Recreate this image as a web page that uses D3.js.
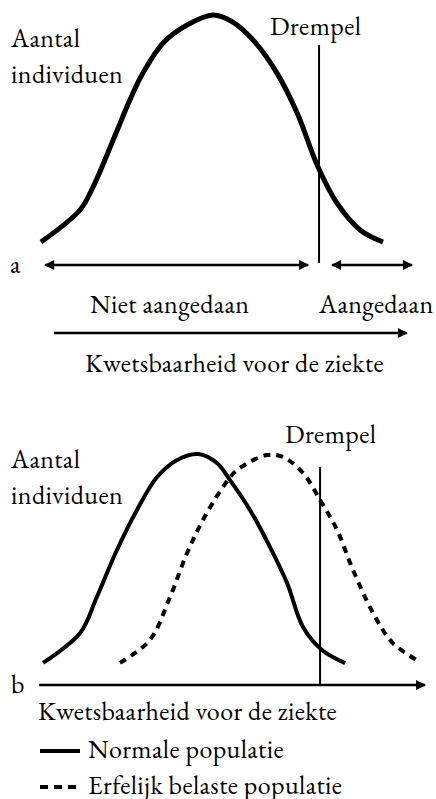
<!DOCTYPE html>
<html>
<head>
<meta charset="utf-8">
<script src="https://cdn.jsdelivr.net/npm/d3@7"></script>
<style>
  html, body { margin: 0; padding: 0; background: #fff; }
</style>
</head>
<body>
<div id="chart"></div>
<script>
(function () {
  'use strict';

  // panel a: one population, [kwetsbaarheid, aantal]
  var curveA = [[0, 0], [11.4, 14.1], [15.2, 24.2], [21.1, 44.9], [26, 62.6], [29.8, 74.4],
                [35.7, 87.7], [42.7, 95.6], [50.3, 100], [56.1, 96.9], [62, 89], [69, 74.4],
                [74.9, 56.8], [81, 33], [86.5, 17.2], [93.3, 5.3], [100, 0]];
  var thresholdA = 81.3;

  // panel b: normal vs hereditary population
  var normalB = [[0, 1], [9.8, 15.2], [14.2, 32.2], [19.5, 54.5], [24.8, 73.5], [30.1, 89.1],
                 [35.4, 97.2], [41, 100], [45.9, 95.7], [49.3, 87.7], [54.6, 73.5], [59.9, 55.9],
                 [64.4, 38.9], [68.6, 18], [73.6, 7.1], [79.7, 0.9]];
  var erfelijkB = [[20.3, 1], [28.2, 11.8], [33.5, 32.2], [38, 53], [42.2, 68.7], [47.5, 84.4],
                   [51.2, 92.4], [59.1, 99.5], [63.3, 98.6], [68.6, 91], [73.1, 78.2], [77.6, 64],
                   [81.8, 45], [87.1, 24.6], [92.3, 10.4], [99.5, 1.4]];
  var thresholdB = 73.1;

  var labels = {
    yAxis: ["Aantal", "individuen"],
    threshold: "Drempel",
    xAxis: "Kwetsbaarheid voor de ziekte",
    notAffected: "Niet aangedaan",
    affected: "Aangedaan",
    legend: ["Normale populatie", "Erfelijk belaste populatie"]
  };

  var width = 436, height = 799;

  var svg = d3.select("#chart")
      .append("svg")
      .attr("width", width)
      .attr("height", height)
      .attr("font-family", "'EB Garamond', 'Liberation Serif', serif")
      .attr("font-size", 26)
      .attr("letter-spacing", 0.4);

  var defs = svg.append("defs");
  function marker(id, orient) {
    defs.append("marker")
        .attr("id", id)
        .attr("viewBox", "0 0 10 10")
        .attr("refX", 9)
        .attr("refY", 5)
        .attr("markerUnits", "userSpaceOnUse")
        .attr("markerWidth", 12)
        .attr("markerHeight", 10)
        .attr("orient", orient)
      .append("path")
        .attr("d", "M0,0 L10,5 L0,10 Z")
        .attr("fill", "#000");
  }
  marker("arrowEnd", "auto");
  marker("arrowStart", "auto-start-reverse");

  function label(g, x, y, s) {
    return g.append("text").attr("x", x).attr("y", y).attr("fill", "#000").text(s);
  }

  function ylabel(g, y0) {
    label(g, 11, y0, labels.yAxis[0]);
    label(g, 11, y0 + 36, labels.yAxis[1]);
  }

  ///////////////////////////////////////////////
  // panel a
  ///////////////////////////////////////////////
  var xA = d3.scaleLinear().domain([0, 100]).range([41, 383]);
  var yA = d3.scaleLinear().domain([0, 100]).range([242, 15]);
  var ga = svg.append("g");

  var lineA = d3.line().curve(d3.curveCatmullRom.alpha(0.5))
      .x(function(d) { return xA(d[0]); })
      .y(function(d) { return yA(d[1]); });

  ga.append("path")
      .attr("d", lineA(curveA))
      .attr("fill", "none")
      .attr("stroke", "#000")
      .attr("stroke-width", 5);

  ga.append("line")
      .attr("x1", xA(thresholdA)).attr("x2", xA(thresholdA))
      .attr("y1", 45).attr("y2", yA(0) + 21)
      .attr("stroke", "#000").attr("stroke-width", 2);

  label(ga, 270, 35, labels.threshold);
  ylabel(ga, 47);
  label(ga, 10, 273, "a");

  var arrowY = yA(0) + 23;
  [[1.2, thresholdA - 3.2], [thresholdA + 3.8, 108.5]].forEach(function(r) {
    ga.append("line")
        .attr("x1", xA(r[0])).attr("x2", xA(r[1]))
        .attr("y1", arrowY).attr("y2", arrowY)
        .attr("stroke", "#000").attr("stroke-width", 2.5)
        .attr("marker-start", "url(#arrowStart)")
        .attr("marker-end", "url(#arrowEnd)");
  });

  label(ga, 90, 313, labels.notAffected);
  label(ga, 319, 313, labels.affected);

  ga.append("line")
      .attr("x1", xA(3.8)).attr("x2", xA(107))
      .attr("y1", 333).attr("y2", 333)
      .attr("stroke", "#000").attr("stroke-width", 2.5)
      .attr("marker-end", "url(#arrowEnd)");

  label(ga, 85, 372, labels.xAxis);

  ///////////////////////////////////////////////
  // panel b
  ///////////////////////////////////////////////
  var xB = d3.scaleLinear().domain([0, 100]).range([43, 422]);
  var yB = d3.scaleLinear().domain([0, 100]).range([665, 454]);
  var gb = svg.append("g");

  var lineB = d3.line().curve(d3.curveCatmullRom.alpha(0.5))
      .x(function(d) { return xB(d[0]); })
      .y(function(d) { return yB(d[1]); });

  gb.append("path")
      .attr("d", lineB(normalB))
      .attr("fill", "none").attr("stroke", "#000").attr("stroke-width", 4);

  gb.append("path")
      .attr("d", lineB(erfelijkB))
      .attr("fill", "none").attr("stroke", "#000").attr("stroke-width", 4)
      .attr("stroke-dasharray", "7,6");

  gb.append("line")
      .attr("x1", xB(thresholdB)).attr("x2", xB(thresholdB))
      .attr("y1", 467).attr("y2", yB(0) + 20)
      .attr("stroke", "#000").attr("stroke-width", 2);

  gb.append("line")
      .attr("x1", xB(-1)).attr("x2", xB(100.8))
      .attr("y1", yB(0) + 20).attr("y2", yB(0) + 20)
      .attr("stroke", "#000").attr("stroke-width", 2.5)
      .attr("marker-end", "url(#arrowEnd)");

  label(gb, 285, 443, labels.threshold);
  ylabel(gb, 468);
  label(gb, 11, 693, "b");
  label(gb, 38, 720, labels.xAxis);

  // legend
  var legend = gb.selectAll(".legendItem")
      .data(labels.legend)
      .enter().append("g")
        .attr("class", "legendItem")
        .attr("transform", function(d, i) { return "translate(0," + (751 + i * 36) + ")"; });

  legend.append("line")
      .attr("x1", 40).attr("x2", 80)
      .attr("stroke", "#000").attr("stroke-width", 4)
      .attr("stroke-dasharray", function(d, i) { return i ? "8,6" : null; });

  legend.append("text")
      .attr("x", 88).attr("y", 7)
      .attr("fill", "#000")
      .text(function(d) { return d; });
}());
</script>
</body>
</html>
